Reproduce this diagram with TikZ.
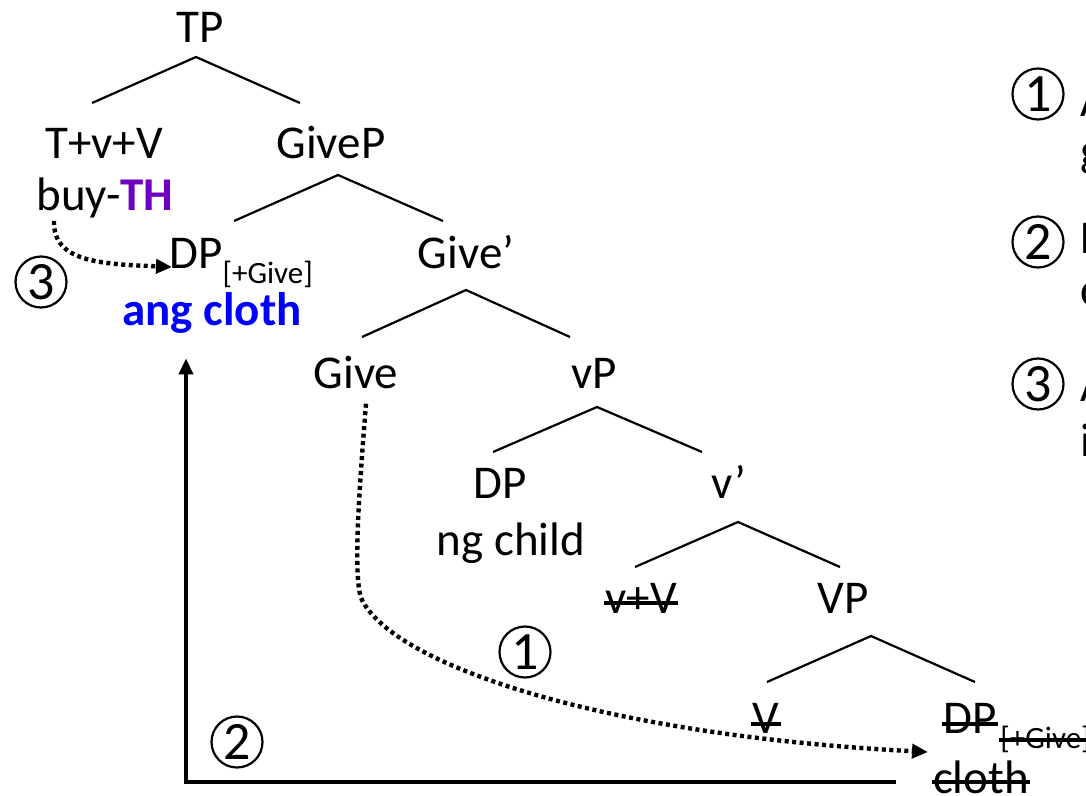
\documentclass[tikz,border=0pt]{standalone}
\usepackage{fontspec}
\setmainfont{Carlito}
\usetikzlibrary{arrows.meta,calc}

\definecolor{thpurple}{RGB}{112,0,192}
\definecolor{clothblue}{RGB}{0,0,255}

\newcommand{\feat}[1]{\raisebox{-15pt}{\fontsize{31}{33}\selectfont #1}} % lowered feature label

\begin{document}
\begin{tikzpicture}[
  x=1pt, y=-1pt, % one unit is one pixel, y runs down
  >={Triangle[length=16pt,width=14pt]}, % defines the style of the arrow heads
  thick,
  cat/.style={anchor=base, inner sep=3pt, font=\fontsize{47}{53}\selectfont}, % style of the tree labels
  sub/.style={anchor=base west, inner sep=3pt, font=\fontsize{31}{33}\selectfont}, % style of a lowered feature
  note/.style={anchor=base west, inner sep=0pt, font=\fontsize{47}{53}\selectfont}, % style of the side notes
  num/.style={circle, draw, line width=2.2pt, minimum size=51pt, inner sep=0pt, font=\fontsize{54}{54}\selectfont}, % circled step numbers
  branch/.style={line width=2.2pt}, % style of the tree branches
  strike/.style={line width=3.2pt}, % deleted copies
  move/.style={->, line width=4.4pt, dash pattern=on 4pt off 3.5pt}, % dotted movement arrows
  raise/.style={->, line width=3.6pt} % solid arrow
  ]
  \useasboundingbox (0,0) rectangle (1086,795);

  \node[cat] (TP) at (200,42) {TP};
  \node[cat] (TvV) at (104,158) {T+v+V};
  \node[cat] (buy) at (105,210) {buy-\textcolor{thpurple}{\textbf{TH}}};
  \node[cat] (GiveP) at (331,158) {GiveP};
  \node[cat, anchor=base west] (DPg) at (166,268) {DP\feat{[+Give]}};
  \node[cat, font=\fontsize{47}{53}\selectfont\bfseries, text=clothblue] (ang) at (212,325) {ang cloth};
  \node[cat] (Gbar) at (466,268) {Give’};
  \node[cat] (Give) at (356,388) {Give};
  \node[cat] (vP) at (594,388) {vP};
  \node[cat] (DPc) at (500,498) {DP};
  \node[cat] (child) at (511,555) {ng child};
  \node[cat] (vbar) at (729,498) {v’};
  \node[cat] (vV) at (641,613) {v+V};
  \node[cat] (VP) at (843,613) {VP};
  \node[cat] (V) at (766,733) {V};
  \node[cat, anchor=base west] (DPt) at (940,733) {DP};
  \node[sub] (DPf) at ([shift={(-3,-15pt)}]DPt.base east) {[+Give]};
  \node[cat] (cloth) at (981,793) {cloth};

  % strike out the lower copies
  \foreach \n/\h in {vV/10, V/9, DPt/9, DPf/8, cloth/11}
    \draw[strike] ([shift={(2,-\h)}]\n.base west) -- ([shift={(-2,-\h)}]\n.base east);

  % branches
  \draw[branch] ($(TvV.base)+(-12,-55)$) -- ($(TP.base)+(-4,15)$) -- ($(GiveP.base)+(-31,-55)$);
  \draw[branch] ($(DPg.base west)+(68,-47)$) -- ($(GiveP.base)+(7,17)$) -- ($(Gbar.base)+(-23,-47)$);
  \draw[branch] ($(Give.base)+(6,-51)$) -- ($(Gbar.base)+(0,22)$) -- ($(vP.base)+(-24,-51)$);
  \draw[branch] ($(DPc.base)+(-7,-46)$) -- ($(vP.base)+(3,19)$) -- ($(vbar.base)+(-27,-46)$);
  \draw[branch] ($(vV.base)+(-6,-46)$) -- ($(vbar.base)+(9,24)$) -- ($(VP.base)+(-3,-46)$);
  \draw[branch] ($(V.base)+(1,-51)$) -- ($(VP.base)+(28,23)$) -- ($(DPt.base west)+(35,-51)$);

  % movements
  \draw[move] ([shift={(10,12)}]Give.south) .. controls (360,480) and (352,580) .. (362,600)
    .. controls (395,665) and (600,735) .. ([shift={(-12,19)}]DPt.base west);
  \draw[raise] ([shift={(-34,-11)}]cloth.base west) -| ([shift={(-26,22)}]ang.south);
  \draw[move] ([xshift=-51pt]buy.south) .. controls (53,262) and (100,264) .. ([shift={(6,-1)}]DPg.base west);

  \node[num] (n3) at (41,282) {3};
  \node[num] (n1) at (525,652) {1};
  \node[num] (n2) at (237,742) {2};

  % side notes, cut off at the edge
  \node[num] (k1) at (1038,94) {1};
  \node[num] (k2) at (1038,242) {2};
  \node[num] (k3) at (1038,384) {3};
  \node[note] (k1a) at (1080,116) {A};
  \node[note] (k1b) at (1080,166) {g};
  \node[note] (k2a) at (1080,253) {D};
  \node[note] (k2b) at (1080,305) {c};
  \node[note] (k3a) at (1080,401) {A};
  \node[note] (k3b) at (1080,456) {i};
\end{tikzpicture}
\end{document}
